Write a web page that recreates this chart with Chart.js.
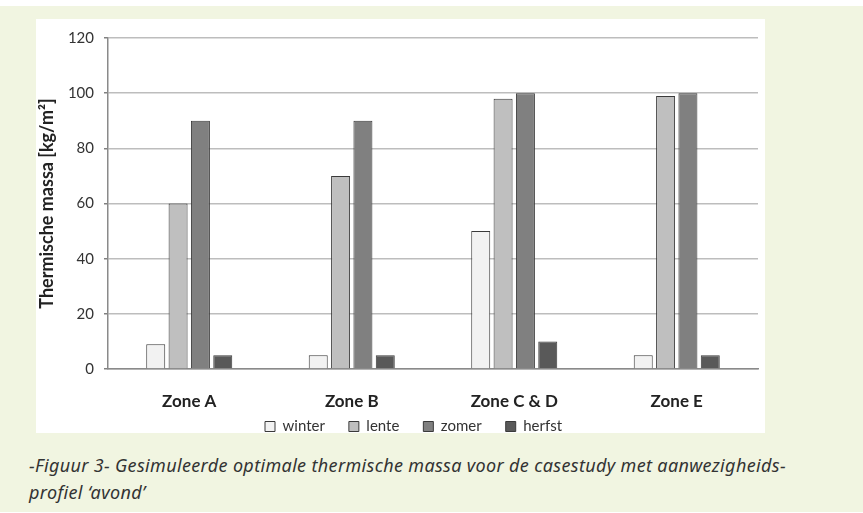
<!DOCTYPE html>
<html>
<head>
<meta charset="utf-8">
<script src="https://cdn.jsdelivr.net/npm/chart.js@4/dist/chart.umd.min.js"></script>
<style>
  html, body { margin: 0; padding: 0; background: #fff; }
  body { width: 863px; height: 513px; position: relative; overflow: hidden; }
  .frame { position: absolute; left: 0; top: 6px; width: 863px; height: 506px; background: #f1f5e1; }
  .panel { position: absolute; left: 36px; top: 19px; width: 729px; height: 414px; background: #fff; }
  .caption {
    position: absolute; left: 29px; top: 452px;
    font-family: 'Noto Sans', sans-serif; font-style: italic;
    font-size: 18px; letter-spacing: 0.35px; line-height: 27px; color: #333;
  }
</style>
</head>
<body>
<div class="frame"></div>
<div class="panel"><canvas id="chart" width="729" height="414"></canvas></div>
<div class="caption">-Figuur 3- Gesimuleerde optimale thermische massa voor de casestudy met aanwezigheids-<br>profiel ‘avond’</div>
<script>
// chart data
const zones = ['Zone A', 'Zone B', 'Zone C & D', 'Zone E'];
const seasons = ['winter', 'lente', 'zomer', 'herfst'];
const winter = [9, 5, 50, 5];
const lente = [60, 70, 98, 99];
const zomer = [90, 90, 100, 100];
const herfst = [5, 5, 10, 5];
const yTicks = [0, 20, 40, 60, 80, 100, 120];

const fills = ['#f2f2f2', '#bfbfbf', '#808080', '#595959'];

document.addEventListener('DOMContentLoaded', () => {
    const ctx = document.getElementById('chart').getContext('2d');

    // keep the legend row short and put it where the original has it
    const legendPlacement = {
        id: 'legendPlacement',
        beforeLayout(chart) {
            const lg = chart.legend;
            if (lg && !lg._patched) {
                const baseFit = Object.getPrototypeOf(lg).fit;
                lg.fit = function () {
                    baseFit.call(this);
                    this.height = 20;
                };
                lg._patched = true;
            }
        },
        afterLayout(chart) {
            const lg = chart.legend;
            const w = lg.right - lg.left;
            lg.left = 205;
            lg.right = lg.left + w;
            lg.top = 376;
            lg.bottom = 414;
        }
    };

    new Chart(ctx, {
        type: 'bar',
        data: {
            labels: zones,
            datasets: [winter, lente, zomer, herfst].map((vals, i) => ({
                label: seasons[i],
                data: vals,
                backgroundColor: fills[i],
                borderColor: '#3a3a3a',
                borderWidth: 1,
                categoryPercentage: 0.55,
                barPercentage: 0.85
            }))
        },
        options: {
            responsive: false,
            animation: false,
            layout: { padding: { top: 10, right: 7, left: 0, bottom: 0 } },
            plugins: {
                legend: {
                    position: 'bottom',
                    align: 'start',
                    labels: {
                        boxWidth: 10,
                        boxHeight: 10,
                        padding: 24,
                        color: '#333',
                        font: { family: 'Lato', size: 15 }
                    }
                },
                tooltip: { enabled: false }
            },
            scales: {
                x: {
                    grid: { display: false },
                    border: { display: true, color: '#8a8a8a', width: 1.5 },
                    ticks: {
                        color: '#222',
                        padding: 14,
                        font: { family: 'Lato', size: 17, weight: 'bold' }
                    },
                    afterFit: s => { s.height = 44; }
                },
                y: {
                    min: 0,
                    max: 120,
                    afterBuildTicks: s => { s.ticks = yTicks.map(v => ({ value: v })); },
                    ticks: {
                        color: '#333',
                        padding: 10,
                        font: { family: 'Lato', size: 15 }
                    },
                    grid: {
                        color: '#bdbdbd',
                        lineWidth: 1.5,
                        tickLength: 4,
                        tickColor: '#808080'
                    },
                    border: { color: '#8a8a8a', width: 1.5 },
                    title: {
                        display: true,
                        text: 'Thermische massa [kg/m²]',
                        color: '#222',
                        padding: 0,
                        font: { family: 'Lato', size: 18, weight: 'bold' }
                    },
                    afterFit: s => { s.width = 72; }
                }
            }
        },
        plugins: [legendPlacement]
    });
});
</script>
</body>
</html>
